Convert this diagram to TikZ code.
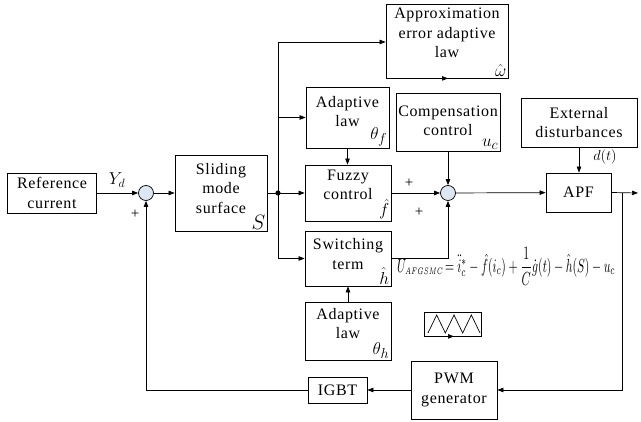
\documentclass[tikz,border=0pt]{standalone}
\usepackage{amsmath, amssymb}
\usepackage{graphicx}
\usepackage{fontspec}
\setmainfont[LetterSpace=4]{Liberation Serif}
\usetikzlibrary{arrows.meta, positioning, calc}
\definecolor{sumblue}{RGB}{221,231,243}

\tikzset{
  blk/.style={draw, line width=0.8pt, inner sep=0pt},
  txt/.style={align=center, inner sep=0pt, font=\rmfamily\fontsize{16}{19.5}\selectfont},
  sym/.style={anchor=south east, inner sep=2pt, font=\fontsize{19}{22}\selectfont},
  sumpt/.style={draw, circle, fill=sumblue, minimum size=15pt, inner sep=0pt, line width=0.7pt},
  arr/.style={-{Triangle[length=6pt,width=4.5pt]}, line width=0.7pt},
  ln/.style={line width=0.7pt}
}

\begin{document}
\begin{tikzpicture}[x=1pt, y=-1pt]
  \useasboundingbox (0,0) rectangle (641,422);

  % Blocks: name/x/y/width/height/text shift/text
  \foreach \name/\cx/\cy/\w/\h/\up/\txt in {
      ref/52/193/89/40/0/{Reference\\current},
      sms/221/193/92/76/4.5/{Sliding\\mode\\surface},
      approx/447/41/122/74/8/{Approximation\\error adaptive\\law},
      adaptf/347.5/117.5/83/61/6/{Adaptive\\law},
      comp/448/122/104/58/1/{Compensation\\control},
      fuzzy/348/193/86/56/8/{Fuzzy\\control},
      switch/348/258.5/86/55/4.5/{Switching\\term},
      adapth/348/331/86/58/7.5/{Adaptive\\law},
      apf/578.5/192.5/65/39/0/{APF},
      ext/579/122.5/116/49/0/{External\\disturbances},
      pwm/454/390/86/58/0/{PWM\\generator},
      igbt/337.5/390/59/26/0/{IGBT}} {
    \node[blk, minimum width=\w pt, minimum height=\h pt] (\name) at (\cx,\cy) {};
    \node[txt] at ([yshift=\up pt]\name.center) {\txt};
  }

  % Symbols in block corners
  \node[sym, font=\fontsize{22}{24}\selectfont] at (sms.south east) {$S$};
  \node[sym] at (approx.south east) {$\hat{\omega}$};
  \node[sym] at (adaptf.south east) {$\theta_f$};
  \node[sym] at (comp.south east) {$u_c$};
  \node[sym] at (fuzzy.south east) {$\hat{f}$};
  \node[sym] at (switch.south east) {$\hat{h}$};
  \node[sym] at (adapth.south east) {$\theta_h$};

  % Summing points
  \node[sumpt] (sum1) at (146,193) {};
  \node[sumpt] (sum2) at (448,193) {};

  % Carrier wave
  \node[blk, minimum width=57pt, minimum height=24pt] (tri) at (452.5,324) {};
  \draw[ln] (428,333) \foreach \k in {1,2,3} { -- ++(8.67,-18) -- ++(8.67,18) };

  % Points
  \coordinate (jn) at (278,193);
  \coordinate (out) at (638,193);
  \coordinate (br) at (622,193);

  % Forward path
  \draw[arr] (ref) -- (sum1);
  \draw[arr] (sum1) -- (sms);
  \draw[arr] (sms.east) -- (fuzzy.west);
  \fill (jn) circle (2.6pt);
  \draw[arr] (jn) |- ([yshift=-1pt]approx.west);
  \draw[arr] (jn) |- (adaptf.west);
  \draw[arr] (jn) |- (switch.west);
  \draw[arr] (adaptf) -- (adaptf.south |- fuzzy.north);
  \draw[arr] (approx.south) -- (approx.south -| comp.north);
  \draw[arr] (comp) -- (sum2);
  \draw[arr] (fuzzy) -- (sum2);
  \draw[arr] (switch.east) -| (sum2.south);
  \draw[arr] (adapth) -- (switch);
  \draw[arr] (sum2) -- (apf);
  \draw[arr] (ext) -- (ext.south |- apf.north);
  \draw[arr] (apf.east) -- (out);

  % Feedback path
  \draw[arr] (br) |- (pwm.east);
  \draw[arr] (tri.south) -- (tri.south -| pwm.north);
  \draw[arr] (pwm) -- (igbt);
  \draw[arr] (igbt.west) -| (sum1.south);

  % Signal labels
  \node[font=\fontsize{18}{20}\selectfont] (yd) at (117,180) {$Y_d$};
  \node[font=\fontsize{15}{17}\selectfont] (p1) at (135,214) {+};
  \node[font=\fontsize{15}{17}\selectfont] (p2) at (409,183) {+};
  \node[font=\fontsize{15}{17}\selectfont] (p3) at (419,212) {+};
  \node[font=\fontsize{15}{17}\selectfont] (dt) at (605,157) {$d(t)$};

  % Control law
  \node[anchor=west, inner sep=0pt] (eq) at (397,266)
    {\resizebox*{218pt}{38pt}{$U_{\scriptscriptstyle AFGSMC}\!=\ddot{i}_c^{*}-\hat{f}(i_c)+\dfrac{1}{C}\dot{g}(t)-\hat{h}(S)-u_c$}};
\end{tikzpicture}
\end{document}
